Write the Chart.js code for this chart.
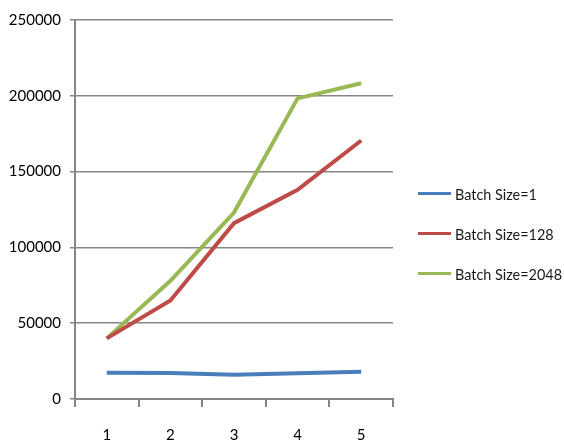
<!DOCTYPE html>
<html>
<head>
<meta charset="utf-8">
<script src="https://cdn.jsdelivr.net/npm/chart.js@4/dist/chart.umd.min.js"></script>
<style>
  html, body { margin: 0; padding: 0; background: #ffffff; }
  #wrap { width: 564px; height: 445px; position: relative; }
</style>
</head>
<body>
<div id="wrap"><canvas id="chart"></canvas></div>
<script>
// Throughput per step for three batch sizes
const categories = ['1', '2', '3', '4', '5'];
const batch1 = [17300, 17200, 16000, 17000, 18000];
const batch128 = [40000, 65000, 116000, 138000, 170500];
const batch2048 = [40000, 78000, 123000, 198300, 208300];
const seriesNames = ['Batch Size=1', 'Batch Size=128', 'Batch Size=2048'];
const seriesColors = ['#4a7ebb', '#be4b48', '#98b954'];

const FONT = 'Lato, "Liberation Sans", sans-serif';

// Legend drawn beside the plot: a short coloured stroke followed by the series name
const sideLegend = {
  id: 'sideLegend',
  afterDraw(chart) {
    const ctx = chart.ctx;
    const area = chart.chartArea;
    const x0 = area.right + 25;
    const textX = x0 + 37;
    const spacing = 40;
    const n = chart.data.datasets.length;
    const yMid = (area.top + area.bottom) / 2 + 24;
    ctx.save();
    ctx.font = '15px ' + FONT;
    ctx.textBaseline = 'middle';
    // keep the longest name inside the canvas by narrowing the glyphs slightly
    const room = chart.width - textX - 2;
    const widest = Math.max(...chart.data.datasets.map(d => ctx.measureText(d.label).width));
    const sx = Math.min(1, room / widest);
    chart.data.datasets.forEach((ds, i) => {
      const y = yMid + (i - (n - 1) / 2) * spacing;
      ctx.strokeStyle = ds.borderColor;
      ctx.lineWidth = 3;
      ctx.beginPath();
      ctx.moveTo(x0, y);
      ctx.lineTo(x0 + 33, y);
      ctx.stroke();
      ctx.save();
      ctx.translate(textX, y + 2);
      ctx.scale(sx, 1);
      ctx.fillStyle = '#1a1a1a';
      ctx.fillText(ds.label, 0, 0);
      ctx.restore();
    });
    ctx.restore();
  }
};

new Chart(document.getElementById('chart'), {
  type: 'line',
  data: {
    labels: categories,
    datasets: [batch1, batch128, batch2048].map((values, i) => ({
      label: seriesNames[i],
      data: values,
      borderColor: seriesColors[i],
      backgroundColor: seriesColors[i],
      borderWidth: 4,
      pointRadius: 0,
      tension: 0,
      fill: false
    }))
  },
  options: {
    responsive: true,
    maintainAspectRatio: false,
    animation: false,
    layout: { padding: { top: 20, right: 171, left: 0, bottom: 0 } },
    plugins: {
      legend: { display: false },
      tooltip: { enabled: false }
    },
    scales: {
      x: {
        offset: true,
        grid: {
          offset: true,
          drawOnChartArea: false,
          color: '#868686',
          tickLength: 8,
          lineWidth: 2
        },
        border: { color: '#868686', width: 2 },
        ticks: {
          color: '#000000',
          padding: 19,
          font: { family: FONT, size: 15 }
        },
        afterFit(scale) { scale.height = 46; }
      },
      y: {
        min: 0,
        max: 250000,
        ticks: {
          stepSize: 50000,
          color: '#000000',
          padding: 9,
          font: { family: FONT, size: 15 },
          callback: (value) => String(value)
        },
        grid: {
          color: '#868686',
          lineWidth: 1.5,
          tickLength: 5
        },
        border: { color: '#868686', width: 2 },
        afterFit(scale) { scale.width = 75; }
      }
    }
  },
  plugins: [sideLegend]
});
</script>
</body>
</html>
